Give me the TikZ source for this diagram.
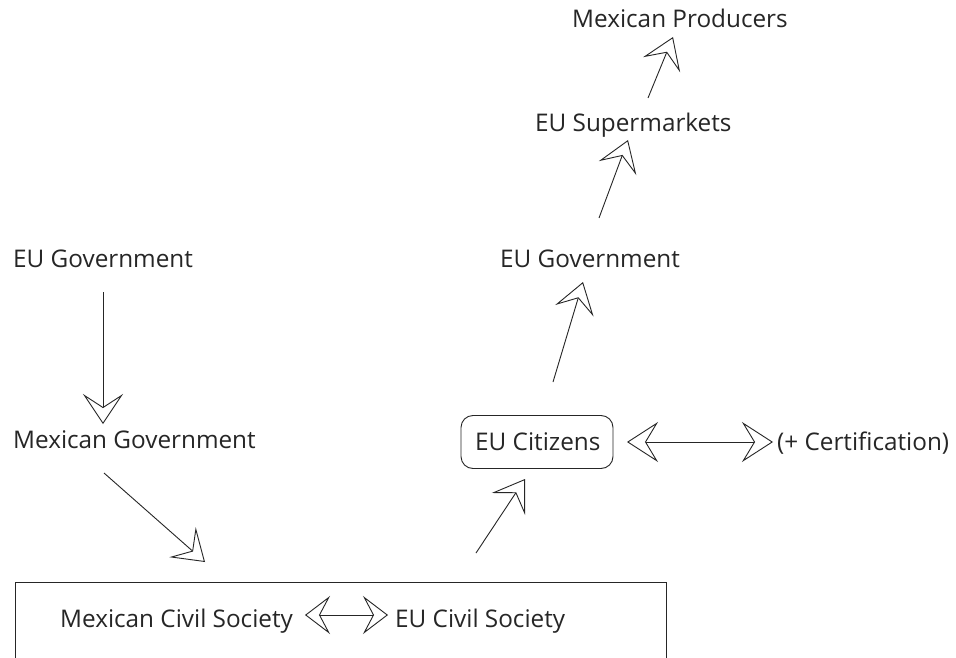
\documentclass[tikz,border=0pt]{standalone}
\usepackage{fontspec}
\setmainfont{Open Sans}
\usetikzlibrary{arrows.meta}
\tikzset{
  lbl/.style={inner sep=0pt, anchor=base west, font=\fontsize{24.3pt}{28pt}\selectfont, text=black!85},
  conn/.style={line width=0.9pt, draw=black!85, -{Stealth[open, length=30pt, width=40pt, inset=13pt]}},
  dconn/.style={line width=0.9pt, draw=black!85, {Stealth[open, length=31pt, width=40pt, inset=12pt]}-{Stealth[open, length=31pt, width=40pt, inset=12pt]}},
  sconn/.style={line width=0.9pt, draw=black!85, {Stealth[open, length=25pt, width=38pt, inset=10pt]}-{Stealth[open, length=25pt, width=38pt, inset=10pt]}},
}
\begin{document}
\begin{tikzpicture}[x=1pt, y=-1pt]
\useasboundingbox (0,0) rectangle (956,658);
\clip (0,0) rectangle (956,658);
\fill[white] (0,0) rectangle (956,658);

% outer box
\node[draw=black!85, line width=0.9pt, minimum width=651pt, minimum height=120pt, inner sep=0pt, anchor=north west] (box) at (15,582) {};

% labels
\node[lbl] (prod) at (572,28) {Mexican Producers};
\node[lbl] (super) at (535,132) {EU Supermarkets};
\node[lbl] (eugovr) at (500,267) {EU Government};
\node[lbl] (eugovl) at (13,267) {EU Government};
\node[lbl] (mexgov) at (13,448) {Mexican Government};
\node[lbl] (cit) at (475,450) {EU Citizens};
\node[draw=black!85, line width=0.9pt, rounded corners=12pt, minimum width=152pt, minimum height=53pt, inner sep=0pt] (citbox) at (537,442) {};
\node[lbl] (cert) at (777,450) {(+ Certification)};
\node[lbl] (mcs) at (60,627) {Mexican Civil Society};
\node[lbl] (ecs) at (395,627) {EU Civil Society};

% connector end points
\coordinate (a1s) at (103,292);
\coordinate (a1e) at (103,424);
\coordinate (a2s) at (104,473);
\coordinate (a2e) at (205,562);
\coordinate (a3s) at (476,553);
\coordinate (a3e) at (525,479);
\coordinate (a4s) at (553,382);
\coordinate (a4e) at (583,282);
\coordinate (a5s) at (599,218);
\coordinate (a5e) at (628,140);
\coordinate (a6s) at (648,98);
\coordinate (a6e) at (673,37);
\coordinate (d1s) at (627,442);
\coordinate (d1e) at (773,442);
\coordinate (d2s) at (305,615);
\coordinate (d2e) at (388,615);

\draw[conn] (a1s) -- (a1e);
\draw[conn] (a2s) -- (a2e);
\draw[conn] (a3s) -- (a3e);
\draw[conn] (a4s) -- (a4e);
\draw[conn] (a5s) -- (a5e);
\draw[conn] (a6s) -- (a6e);
\draw[dconn] (d1s) -- (d1e);
\draw[sconn] (d2s) -- (d2e);
\end{tikzpicture}
\end{document}
